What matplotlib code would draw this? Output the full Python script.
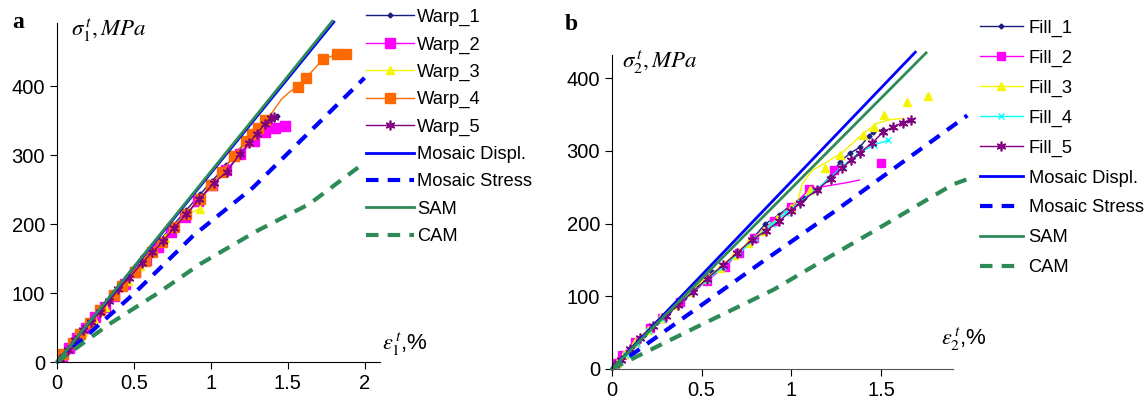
import matplotlib
matplotlib.use('Agg')
import matplotlib.pyplot as plt

plt.rcParams['font.family'] = ['Liberation Sans', 'DejaVu Sans']
plt.rcParams['mathtext.fontset'] = 'stix'

# ---- panel a: warp direction (strain %, stress MPa) ----
warp1_x = [0, 0.05, 0.1, 0.16, 0.22, 0.29, 0.36, 0.43, 0.5, 0.58, 0.66, 0.75, 0.84, 0.93, 1.01, 1.1, 1.18, 1.26, 1.33, 1.39, 1.43]
warp1_y = [0, 14, 27, 43, 59, 77, 96, 114, 132, 153, 174, 197, 220, 243, 263, 285, 306, 326, 343, 353, 357]
warp2_x = [0, 0.03, 0.08, 0.13, 0.19, 0.25, 0.31, 0.37, 0.44, 0.51, 0.58, 0.66, 0.74, 0.83, 0.92, 1.01, 1.1, 1.19, 1.28, 1.35, 1.42, 1.48]
warp2_y = [0, 8, 21, 35, 50, 65, 80, 96, 113, 130, 148, 167, 188, 211, 234, 256, 278, 301, 321, 333, 340, 342]
warp3_x = [0, 0.04, 0.1, 0.17, 0.24, 0.31, 0.38, 0.46, 0.54, 0.62, 0.7, 0.77, 0.84, 0.93]
warp3_y = [0, 10, 26, 44, 62, 80, 98, 118, 139, 160, 180, 197, 214, 222]
warp4_x = [0, 0.04, 0.106, 0.15, 0.215, 0.28, 0.371, 0.42, 0.508, 0.573, 0.617, 0.682, 0.758, 0.84, 0.927, 1.0, 1.073,
           1.15, 1.23, 1.27, 1.31, 1.35, 1.40, 1.46, 1.52, 1.57, 1.62, 1.73, 1.82, 1.88]
warp4_y = [3, 11.6, 27, 41, 56, 75, 97, 110, 130, 147, 160, 174, 196, 215, 237, 256, 276,
           299, 321, 330, 340, 351, 362, 381, 393, 399, 412, 439, 446, 447]
warp4_no_marker = [22, 23, 24]
warp5_x = [0, 0.02, 0.07, 0.12, 0.17, 0.22, 0.28, 0.34, 0.4, 0.47, 0.55, 0.62, 0.69, 0.76, 0.84, 0.925, 1.02, 1.105, 1.19, 1.25, 1.3, 1.35, 1.39, 1.41]
warp5_y = [0, 5, 18, 32, 46, 58, 73, 88, 106, 122, 143, 159, 175, 194, 214, 236, 259, 276, 302, 318, 331, 345, 354, 355]

a_displ_x = [0, 1.8]
a_displ_y = [0, 493]
a_stress_x = [0, 0.5, 0.885, 1.275, 2.0]
a_stress_y = [0, 99, 183, 253, 412]
a_sam_x = [0, 1.79]
a_sam_y = [0, 494]
a_cam_x = [0, 0.34, 0.65, 0.93, 1.30, 1.64, 2.0]
a_cam_y = [0, 55, 99, 142, 190, 229, 289]

# ---- panel b: fill direction ----
fill1_x = [0, 0.03, 0.07, 0.12, 0.18, 0.25, 0.32, 0.4, 0.48, 0.56, 0.63, 0.7, 0.78, 0.854, 0.93, 0.99, 1.07, 1.15, 1.22, 1.27, 1.327, 1.38, 1.43, 1.457, 1.51]
fill1_y = [0, 8, 19, 32, 47, 64, 80, 98, 116, 133, 141, 159, 178, 199.5, 212, 224, 235, 247, 266, 285, 297, 305, 320, 326, 329]
fill2_x = [0, 0.018, 0.056, 0.13, 0.213, 0.278, 0.38, 0.529, 0.63, 0.71, 0.79, 0.904, 1.0, 1.10, 1.2, 1.3, 1.379]
fill2_y = [0, 7.8, 19.3, 37.6, 56, 69.7, 92.6, 121, 141, 160, 180, 204, 223, 247, 252, 256, 260]
fill2_mx = [0, 0.018, 0.056, 0.13, 0.213, 0.278, 0.38, 0.529, 0.63, 0.71, 0.79, 0.904, 1.0, 1.10, 1.238, 1.497]
fill2_my = [0, 7.8, 19.3, 37.6, 56, 69.7, 92.6, 121, 141, 160, 180, 204, 223, 247, 273.7, 284]
fill3_x = [0, 0.03, 0.07, 0.13, 0.2, 0.27, 0.35, 0.43, 0.52, 0.6, 0.68, 0.76, 0.84, 0.92, 1.0, 1.04, 1.06, 1.12, 1.2, 1.29, 1.38, 1.475, 1.55, 1.62]
fill3_y = [0, 8, 20, 37, 54, 70, 88, 106, 124, 139, 157, 174, 190, 206, 222, 235, 255, 274, 285, 299, 319.5, 338, 343, 345]
fill3_mx = [0, 0.03, 0.07, 0.13, 0.2, 0.27, 0.35, 0.43, 0.52, 0.6, 0.68, 0.76, 0.84, 0.92, 1.0, 1.104, 1.19, 1.27, 1.40, 1.46, 1.516, 1.646, 1.76]
fill3_my = [0, 8, 20, 37, 54, 70, 88, 106, 124, 139, 157, 174, 190, 206, 222, 246, 277, 294, 322, 333, 349, 368, 375.5]
fill4_x = [0, 0.03, 0.08, 0.14, 0.21, 0.28, 0.36, 0.44, 0.53, 0.62, 0.71, 0.8, 0.89, 0.97, 1.05, 1.13, 1.21, 1.29, 1.37, 1.46, 1.54]
fill4_y = [0, 7, 19, 34, 52, 69, 86, 104, 122, 141, 160, 180, 199, 215, 230, 245, 262, 280, 296, 308, 315]
fill5_x = [0, 0.02, 0.05, 0.1, 0.16, 0.23, 0.3, 0.37, 0.45, 0.53, 0.62, 0.7, 0.78, 0.86, 0.93, 1.0, 1.05, 1.14, 1.22, 1.28, 1.33, 1.38, 1.45, 1.51, 1.565, 1.62, 1.667]
fill5_y = [0, 5, 13, 27, 43, 59, 73, 88, 106, 124, 143, 160, 178, 190, 203, 218, 229, 246, 262, 276, 287, 297.5, 311, 326, 333, 339, 343]

b_displ_x = [0, 1.69]
b_displ_y = [0, 436]
b_stress_x = [0, 0.83, 1.23, 1.98]
b_stress_y = [0, 146, 215, 349]
b_sam_x = [0, 1.75]
b_sam_y = [0, 435]
b_cam_x = [0, 0.45, 0.9, 1.12, 1.44, 1.9, 2.0]
b_cam_y = [0, 55, 109, 141, 187, 254, 263]

NAVY = '#1c1c80'
MAG = '#ff00ff'
YEL = '#f5f500'
ORA = '#ff6a00'
PUR = '#800080'
CYA = '#00ffff'
BLUE = '#0000ff'
GREEN = '#2e8b57'
ASTER = (6, 2, 0)


def style_axes(ax):
    for s in ['top', 'right']:
        ax.spines[s].set_visible(False)
    ax.tick_params(labelsize=14.5, length=5, direction='out')


def model_lines(ax, dx, dy, sx, sy, mx, my, cx, cy):
    ax.plot(dx, dy, color=BLUE, lw=2, label='Mosaic Displ.', clip_on=False)
    ax.plot(sx, sy, color=BLUE, lw=3, ls=(0, (3, 2.2)), label='Mosaic Stress', clip_on=False)
    ax.plot(mx, my, color=GREEN, lw=2, label='SAM', clip_on=False)
    ax.plot(cx, cy, color=GREEN, lw=3, ls=(0, (3, 2.2)), label='CAM', clip_on=False)


fig = plt.figure(figsize=(11.46, 4.05), dpi=100)

# panel a
ax1 = fig.add_axes([0.0497, 0.106, 0.2818, 0.838])
ax1.plot(warp1_x, warp1_y, color=NAVY, lw=1, marker='D', ms=2.5, label='Warp_1')
ax1.plot(warp2_x, warp2_y, color=MAG, lw=1, marker='s', ms=6.5, label='Warp_2')
ax1.plot(warp3_x, warp3_y, color=YEL, lw=1, marker='^', ms=6, label='Warp_3')
mk4 = [i for i in range(len(warp4_x)) if i not in warp4_no_marker]
ax1.plot(warp4_x, warp4_y, color=ORA, lw=1, marker='s', ms=6.5, markevery=mk4, label='Warp_4')
ax1.plot(warp5_x, warp5_y, color=PUR, lw=1, marker=ASTER, ms=7, mew=1.2, label='Warp_5')
model_lines(ax1, a_displ_x, a_displ_y, a_stress_x, a_stress_y, a_sam_x, a_sam_y, a_cam_x, a_cam_y)
ax1.set_xlim(0, 2.1)
ax1.set_ylim(0, 492)
ax1.set_xticks([0, 0.5, 1, 1.5, 2])
ax1.set_xticklabels(['0', '0.5', '1', '1.5', '2'])
ax1.set_yticks([0, 100, 200, 300, 400])
style_axes(ax1)
ax1.legend(loc='upper left', bbox_to_anchor=(0.3194, 0.978), bbox_transform=fig.transFigure,
           frameon=False, fontsize=13.2, handlelength=2.6, labelspacing=0.56, handletextpad=0.2,
           borderpad=0, borderaxespad=0)

# panel b
ax2 = fig.add_axes([0.5338, 0.089, 0.2978, 0.775])
ax2.plot(fill1_x, fill1_y, color=NAVY, lw=1, marker='D', ms=2.5, label='Fill_1')
ax2.plot(fill2_x, fill2_y, color=MAG, lw=1)
ax2.plot(fill2_mx, fill2_my, color=MAG, ls='none', marker='s', ms=6)
ax2.plot([], [], color=MAG, lw=1, marker='s', ms=6, label='Fill_2')
ax2.plot(fill3_x, fill3_y, color=YEL, lw=1)
ax2.plot(fill3_mx, fill3_my, color=YEL, ls='none', marker='^', ms=6)
ax2.plot([], [], color=YEL, lw=1, marker='^', ms=6, label='Fill_3')
ax2.plot(fill4_x, fill4_y, color=CYA, lw=1, marker='x', ms=5, label='Fill_4')
ax2.plot(fill5_x, fill5_y, color=PUR, lw=1, marker=ASTER, ms=7, mew=1.2, label='Fill_5')
model_lines(ax2, b_displ_x, b_displ_y, b_stress_x, b_stress_y, b_sam_x, b_sam_y, b_cam_x, b_cam_y)
ax2.set_xlim(0, 1.9)
ax2.set_ylim(0, 432)
ax2.set_xticks([0, 0.5, 1, 1.5])
ax2.set_xticklabels(['0', '0.5', '1', '1.5'])
ax2.set_yticks([0, 100, 200, 300, 400])
style_axes(ax2)
ax2.spines['bottom'].set_color('#555555')
ax2.legend(loc='upper left', bbox_to_anchor=(0.8551, 0.952), bbox_transform=fig.transFigure,
           frameon=False, fontsize=13.2, handlelength=2.35, labelspacing=0.7, handletextpad=0.3,
           borderpad=0, borderaxespad=0)

# panel letters and axis labels
fig.text(0.011, 0.93, 'a', fontsize=17, fontweight='bold', family='Liberation Serif')
fig.text(0.493, 0.925, 'b', fontsize=17, fontweight='bold', family='Liberation Serif')
fig.text(0.062, 0.912, r'$\sigma^{\,t}_{1},MPa$', fontsize=16.5)
fig.text(0.543, 0.832, r'$\sigma^{\,t}_{2},MPa$', fontsize=16.5)
fig.text(0.333, 0.135, r'$\varepsilon^{\,t}_{1}$,%', fontsize=16)
fig.text(0.821, 0.148, r'$\varepsilon^{\,t}_{2}$,%', fontsize=16)

fig.savefig('out.png', dpi=100)
